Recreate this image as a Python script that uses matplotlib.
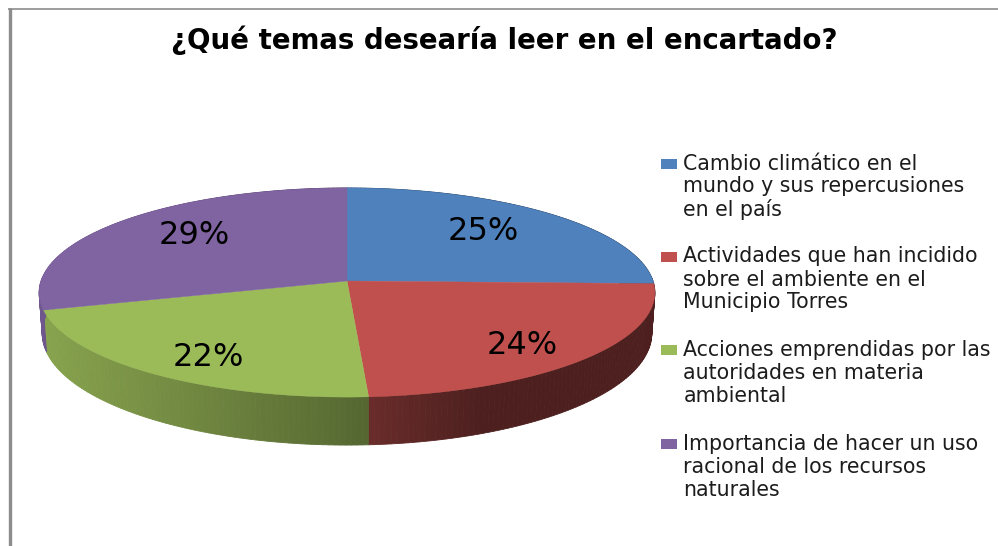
import numpy as np
import matplotlib
matplotlib.use("Agg")
import matplotlib.pyplot as plt

titulo = "¿Qué temas desearía leer en el encartado?"
categorias = [
    ["Cambio climático en el", "mundo y sus repercusiones", "en el país"],
    ["Actividades que han incidido", "sobre el ambiente en el", "Municipio Torres"],
    ["Acciones emprendidas por las", "autoridades en materia", "ambiental"],
    ["Importancia de hacer un uso", "racional de los recursos", "naturales"],
]
valores = [25.4, 23.6, 21.6, 29.4]
colores = ["#4F81BD", "#C0504D", "#9BBB59", "#8064A2"]

# posicion del centro de cada etiqueta de porcentaje
pos_etiquetas = [(483, 231), (522, 345), (208, 357), (194, 235)]

# proyeccion con perspectiva del disco
cx, cy = 347, 281
cy_base = 321
rx, ry = 306, 103.3
persp = 0.11


def proyectar(theta, base=False):
    X = np.sin(theta)
    Y = np.cos(theta)
    w = 1 + persp * Y
    sx = X / w * rx
    sy = -Y / w * ry
    if base:
        return cx + sx * 0.99, cy_base + sy * 1.069
    return cx + sx, cy + sy


def sombra(x):
    return np.interp(x, [45, 368, 480, 654], [0.87, 0.55, 0.40, 0.40])


fig = plt.figure(figsize=(9.98, 5.46), dpi=100)
ax = fig.add_axes([0, 0, 1, 1])
ax.set_xlim(0, 998)
ax.set_ylim(546, 0)
ax.axis("off")

# marco gris
ax.plot([9.8, 9.8], [8, 546], color="#8c8c8c", lw=2.4, solid_capstyle="butt")
ax.plot([8.5, 998], [8.8, 8.8], color="#8c8c8c", lw=1.2, solid_capstyle="butt")

acum = np.cumsum([0] + valores) / sum(valores) * 2 * np.pi

# costado del pastel
for i in range(len(valores)):
    n = max(int((acum[i + 1] - acum[i]) * 60), 2)
    t = np.linspace(acum[i], acum[i + 1], n + 1)
    base_rgb = np.array(matplotlib.colors.to_rgb(colores[i]))
    for a, b in zip(t[:-1], t[1:]):
        xa, ya = proyectar(a)
        xb, yb = proyectar(b)
        xc, yc = proyectar(b, True)
        xd, yd = proyectar(a, True)
        c = base_rgb * sombra((xa + xb) / 2)
        ax.fill([xa, xb, xc, xd], [ya, yb, yc, yd], color=c, lw=0.6, zorder=2)

# cara superior
for i in range(len(valores)):
    t = np.linspace(acum[i], acum[i + 1], 200)
    xs, ys = proyectar(t)
    ax.fill(np.r_[cx, xs], np.r_[cy, ys], color=colores[i], lw=0.3, zorder=3)

# porcentajes
for v, (x, y) in zip(valores, pos_etiquetas):
    ax.text(x, y, f"{v:.0f}%", ha="center", va="center", fontsize=23,
            color="black", family="DejaVu Sans", zorder=4)

ax.text(504, 40, titulo, ha="center", va="center", fontsize=19.9,
        fontweight="bold", color="black", family="DejaVu Sans")

# leyenda
y_leyenda = [163.5, 256.5, 350, 444]
for lineas, y0, col in zip(categorias, y_leyenda, colores):
    ax.fill([661, 677, 677, 661], [y0 - 5, y0 - 5, y0 + 5, y0 + 5], color=col, lw=0)
    for j, linea in enumerate(lineas):
        ax.text(683.5, y0 + j * 23, linea, ha="left", va="center", fontsize=14.8,
                color="#1c1c1c", family="DejaVu Sans")

fig.savefig("out.png", dpi=100)
